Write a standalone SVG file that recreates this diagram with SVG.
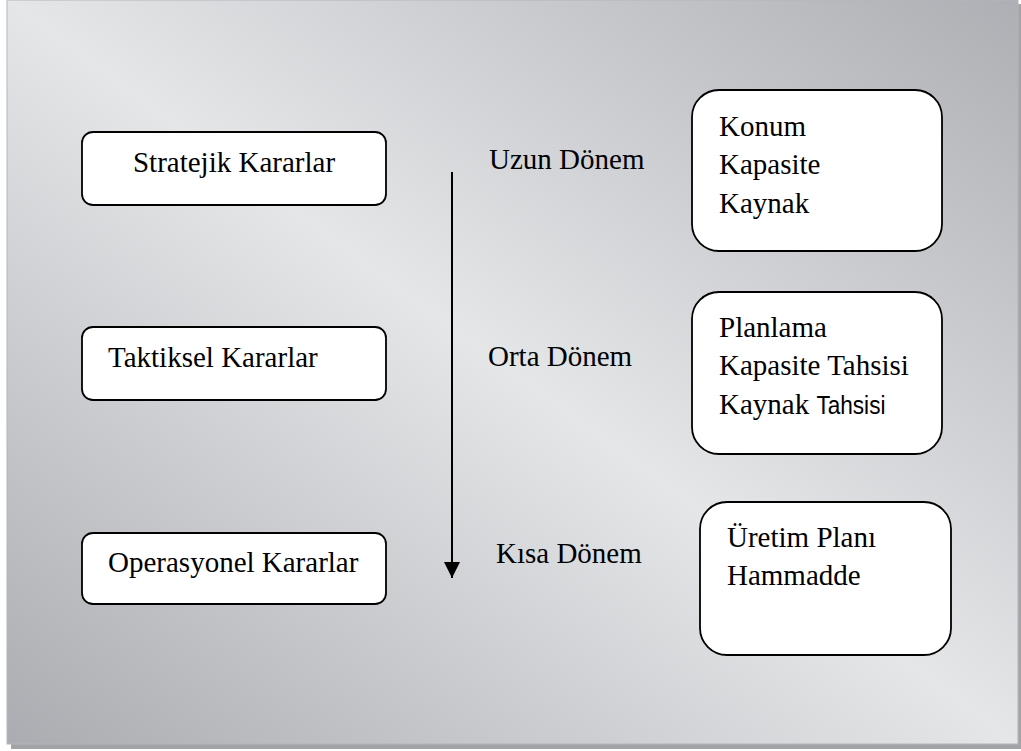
<svg xmlns="http://www.w3.org/2000/svg" width="1021" height="751" viewBox="0 0 1021 751">
  <defs>
    <linearGradient id="panelFill" x1="1" y1="0" x2="0" y2="1">
      <stop offset="0" stop-color="#adafb4"/>
      <stop offset="0.5" stop-color="#e5e6e8"/>
      <stop offset="1" stop-color="#aaacb1"/>
    </linearGradient>
    <marker id="arrowHead" viewBox="0 0 16 16" refX="16" refY="8" markerWidth="16" markerHeight="16" markerUnits="userSpaceOnUse" orient="auto">
      <path d="M0,0 L16,8 L0,16 Z" fill="#000"/>
    </marker>
    <style>
      .box { fill: #ffffff; stroke: #000000; stroke-width: 1.8; }
      .conn { stroke: #000000; stroke-width: 2; fill: none; }
    </style>
  </defs>

  <!-- panel with drop shadow -->
  <rect x="0" y="0" width="1021" height="751" fill="#ffffff"/>
  <rect x="11" y="4" width="1010" height="745" fill="#a3a4a8"/>
  <rect x="7" y="0" width="1011" height="744" fill="url(#panelFill)" stroke="#b4b5b9" stroke-width="1"/>

  <!-- connectors -->
  <g id="connectors">
    <line class="conn" x1="452" y1="172" x2="452" y2="578" marker-end="url(#arrowHead)"/>
  </g>

  <g font-family="Liberation Serif, Times New Roman, serif" font-size="29" fill="#000000">
    <!-- decision levels -->
    <g id="node-stratejik">
      <rect class="box" x="82" y="132" width="304" height="73" rx="11"/>
      <text x="234" y="172" text-anchor="middle">Stratejik Kararlar</text>
    </g>
    <g id="node-taktiksel">
      <rect class="box" x="82" y="327" width="304" height="73" rx="11"/>
      <text x="108" y="367">Taktiksel Kararlar</text>
    </g>
    <g id="node-operasyonel">
      <rect class="box" x="82" y="533" width="304" height="71" rx="11"/>
      <text x="108" y="572">Operasyonel Kararlar</text>
    </g>

    <!-- time horizon labels -->
    <g id="label-uzun">
      <text x="489" y="169">Uzun Dönem</text>
    </g>
    <g id="label-orta">
      <text x="488" y="366">Orta Dönem</text>
    </g>
    <g id="label-kisa">
      <text x="496" y="563">Kısa Dönem</text>
    </g>

    <!-- decision contents -->
    <g id="node-uzun-icerik">
      <rect class="box" x="692" y="90" width="250" height="161" rx="27"/>
      <text x="719" y="136">Konum</text>
      <text x="719" y="174">Kapasite</text>
      <text x="719" y="213">Kaynak</text>
    </g>
    <g id="node-orta-icerik">
      <rect class="box" x="692" y="292" width="250" height="162" rx="27"/>
      <text x="719" y="337">Planlama</text>
      <text x="719" y="375">Kapasite Tahsisi</text>
      <text x="719" y="414">Kaynak <tspan font-family="Liberation Sans, Arial, sans-serif" font-size="25" textLength="69" lengthAdjust="spacingAndGlyphs">Tahsisi</tspan></text>
    </g>
    <g id="node-kisa-icerik">
      <rect class="box" x="700" y="502" width="251" height="153" rx="27"/>
      <text x="727" y="547">Üretim Planı</text>
      <text x="727" y="585">Hammadde</text>
    </g>
  </g>
</svg>
